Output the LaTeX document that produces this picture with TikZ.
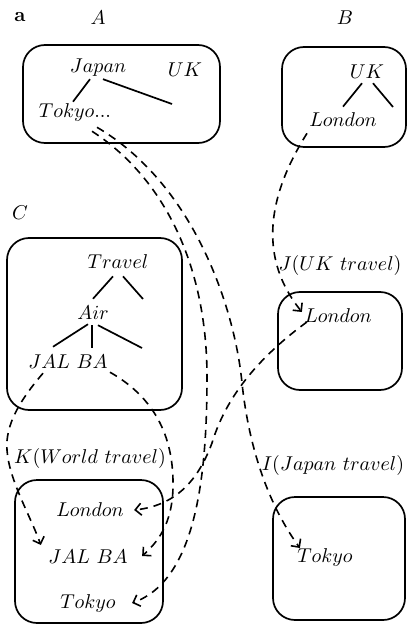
\documentclass[tikz,border=0pt]{standalone}
\usetikzlibrary{arrows.meta}
\begin{document}
\begin{tikzpicture}[x=0.5pt,y=-0.5pt,
  box/.style={draw, line width=0.85pt, rounded corners=11pt, inner sep=0pt, outer sep=0pt},
  lbl/.style={inner sep=1pt},
  tree/.style={line width=0.85pt},
  dline/.style={line width=0.8pt, dash pattern=on 4pt off 3pt},
  conn/.style={dline, -{Straight Barb[length=3pt,width=6pt,line width=0.8pt]}}
]
\useasboundingbox (0,0) rectangle (409,626);

% boxes
\node[box, minimum width=98.5pt, minimum height=49pt] (boxA) at (121.5,94) {};
\node[box, minimum width=62pt, minimum height=50pt] (boxB) at (344,97) {};
\node[box, minimum width=87.5pt, minimum height=86pt] (boxC) at (94.5,324) {};
\node[box, minimum width=62pt, minimum height=49pt] (boxJ) at (340,341) {};
\node[box, minimum width=74pt, minimum height=71.5pt] (boxK) at (89,551.5) {};
\node[box, minimum width=66pt, minimum height=61.5pt] (boxI) at (339,558.5) {};

% labels
\node[lbl] (la) at (20,17) {\textbf{a}};
\node[lbl] (lA) at (98,18) {$A$};
\node[lbl] (lB) at (345,18) {$B$};
\node[lbl] (lC) at (20,213) {$C$};
\node[lbl] (japan) at (98,68) {$Japan$};
\node[lbl] (ukA) at (185,70) {$UK$};
\node[lbl] (tokyoA) at (75,113) {$Tokyo...$};
\node[lbl] (ukB) at (367,72) {$UK$};
\node[lbl] (londonB) at (343,120) {$London$};
\node[lbl] (travel) at (118,262) {$Travel$};
\node[lbl] (air) at (93,313) {$Air$};
\node[lbl] (jalbaC) at (68,362) {$JAL~BA$};
\node[lbl] (lJ) at (340,265) {$J(UK~travel)$};
\node[lbl] (londonJ) at (338,316) {$London$};
\node[lbl] (lK) at (90,458) {$K(World~travel)$};
\node[lbl] (londonK) at (90,510) {$London$};
\node[lbl] (jalbaK) at (88,557) {$JAL~BA$};
\node[lbl] (tokyoK) at (88,603) {$Tokyo$};
\node[lbl] (lI) at (333,465) {$I(Japan~travel)$};
\node[lbl] (tokyoI) at (325,557) {$Tokyo$};

% tree lines
\coordinate (aFree) at (172,104);
\draw[tree] ([xshift=-4pt]japan.south) -- ([xshift=-1pt]tokyoA.north);
\draw[tree] ([xshift=2.5pt]japan.south) -- (aFree);

\coordinate (bFree) at (393,107);
\draw[tree] ([xshift=-2.5pt,yshift=-1pt]ukB.south) -- ([yshift=2pt]londonB.north);
\draw[tree] ([xshift=3pt,yshift=-1pt]ukB.south) -- (bFree);

\coordinate (cFree1) at (143,299);
\coordinate (cFree2) at (142,348);
\draw[tree] ([xshift=-2.5pt,yshift=-2.5pt]travel.south) -- ([yshift=2.5pt]air.north);
\draw[tree] ([xshift=2.5pt,yshift=-2.5pt]travel.south) -- (cFree1);
\draw[tree] ([xshift=-2.5pt,yshift=-1pt]air.south) -- ([xshift=-7.5pt,yshift=3pt]jalbaC.north);
\draw[tree] ([xshift=-0.5pt,yshift=-1.5pt]air.south) -- ([xshift=12pt,yshift=2.5pt]jalbaC.north);
\draw[tree] ([xshift=2.5pt,yshift=-1.5pt]air.south) -- (cFree2);

% connector end points
\coordinate (s1) at ([xshift=8.5pt,yshift=-3.5pt]tokyoA.south);
\coordinate (e1) at ([xshift=7pt]tokyoK.east);
\coordinate (s2) at ([xshift=11pt,yshift=-1.5pt]tokyoA.south);
\coordinate (e2) at ([xshift=2.5pt,yshift=4.5pt]tokyoI.west);
\coordinate (s3) at ([xshift=-18pt,yshift=-2pt]londonB.south);
\coordinate (e3) at ([yshift=2pt]londonJ.west);
\coordinate (s4) at ([xshift=2.5pt,yshift=-3pt]londonJ.west);
\coordinate (e4) at ([xshift=4pt]londonK.east);
\coordinate (s5) at ([xshift=-12.5pt,yshift=-1pt]jalbaC.south);
\coordinate (e5) at ([xshift=-2.5pt,yshift=6pt]jalbaK.west);
\coordinate (s6) at ([xshift=21pt,yshift=-0.5pt]jalbaC.south);
\coordinate (e6) at ([xshift=6pt,yshift=0.5pt]jalbaK.east);

% dashed connectors
\draw[conn] (s1) .. controls (160,175) and (207,260) .. (207,377)
                 .. controls (207,480) and (195,580) .. (e1);
\draw[conn] (s2) .. controls (195,185) and (235,310) .. (242,383)
                 .. controls (248,440) and (265,500) .. (e2);
\draw[conn] (s3) .. controls (265,200) and (260,260) .. (e3);
\draw[conn] (s4) .. controls (255,360) and (225,400) .. (212,443)
                 .. controls (200,475) and (180,505) .. (e4);
\draw[conn] (s5) .. controls (20,400) and (5,425) .. (7,450)
                 .. controls (9,480) and (30,515) .. (e5);
\draw[conn] (s6) .. controls (150,395) and (172,430) .. (173,480)
                 .. controls (174,520) and (160,540) .. (e6);
\end{tikzpicture}
\end{document}
